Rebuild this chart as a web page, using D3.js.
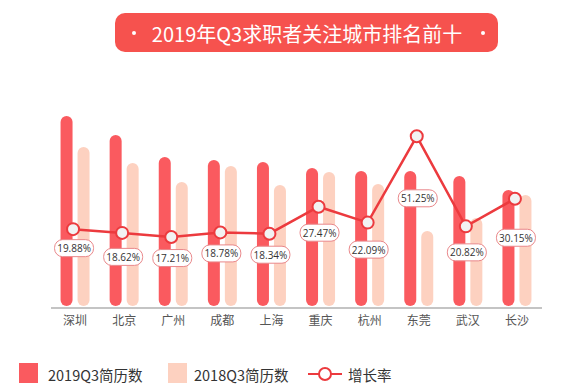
<!DOCTYPE html>
<html>
<head>
<meta charset="utf-8">
<script src="https://cdn.jsdelivr.net/npm/d3@7"></script>
<style>
  body { margin: 0; background: #fff; }
  svg { display: block; font-family: "Noto Sans CJK SC", "Noto Sans", sans-serif; }
</style>
</head>
<body>
<div id="chart"></div>
<script>
// Data (bar values are relative heights, the chart has no value axis)
const cities = ["深圳", "北京", "广州", "成都", "上海", "重庆", "杭州", "东莞", "武汉", "长沙"];
const resumes2019 = [190, 171, 149, 146, 144, 138, 135, 135, 130, 116];
const resumes2018 = [159, 143, 124, 140, 121, 134, 122, 75, 88, 111];
const growthRate = [19.88, 18.62, 17.21, 18.78, 18.34, 27.47, 22.09, 51.25, 20.82, 30.15];
const seriesNames = ["2019Q3简历数", "2018Q3简历数", "增长率"];
const title = "2019年Q3求职者关注城市排名前十";

const width = 566, height = 389;
const baseY = 306;
const colors = { bar2019: "#fa5a5f", bar2018: "#fdd1c0", line: "#ec3a3e", title: "#f6524e" };

// label offset below each point (the original moves a couple of them out of the way)
const labelDy = [19, 24, 21, 21, 21, 26, 27, 62, 26, 39];

const svg = d3.select("#chart")
  .append("svg")
  .attr("width", width)
  .attr("height", height);

// Title pill
const titleG = svg.append("g");
titleG.append("rect")
  .attr("x", 115).attr("y", 13)
  .attr("width", 383).attr("height", 39)
  .attr("rx", 10)
  .attr("fill", colors.title);
titleG.append("text")
  .attr("x", 307).attr("y", 33)
  .attr("text-anchor", "middle")
  .attr("dominant-baseline", "central")
  .attr("fill", "#fff")
  .style("font-size", "20px")
  .text(title);
[134, 483].forEach(x => {
  titleG.append("circle").attr("cx", x).attr("cy", 33).attr("r", 2).attr("fill", "#fff");
});

// Scales
const x = d3.scaleBand()
  .domain(cities)
  .range([50.5, 541.5]);

const y = d3.scaleLinear()
  .domain([0, 200])
  .range([baseY, baseY - 200]);

const yRate = d3.scaleLinear()
  .domain([0, 50])
  .range([288, 140]);

const barW = 12;

// Bars
svg.append("g").selectAll("rect")
  .data(cities)
  .join("rect")
  .attr("x", d => x(d) + x.bandwidth() / 2 - 2.5 - barW)
  .attr("y", (d, i) => y(resumes2019[i]))
  .attr("width", barW)
  .attr("height", (d, i) => baseY - y(resumes2019[i]))
  .attr("rx", 6)
  .attr("fill", colors.bar2019);

svg.append("g").selectAll("rect")
  .data(cities)
  .join("rect")
  .attr("x", d => x(d) + x.bandwidth() / 2 + 2.5)
  .attr("y", (d, i) => y(resumes2018[i]))
  .attr("width", barW)
  .attr("height", (d, i) => baseY - y(resumes2018[i]))
  .attr("rx", 6)
  .attr("fill", colors.bar2018);

// X axis
const xAxis = svg.append("g")
  .attr("transform", `translate(0,${baseY + 1.5})`)
  .call(d3.axisBottom(x).tickSize(0).tickPadding(9));
xAxis.select(".domain").attr("stroke", "#b0b0b0").attr("stroke-width", 1.5);
xAxis.selectAll("text")
  .attr("fill", "#555")
  .style("font-size", "12px")
  .style("font-family", "\"Noto Sans CJK SC\", sans-serif");

// Growth rate line
const px = (d, i) => x(cities[i]) + x.bandwidth() / 2 - 2;
const line = d3.line()
  .x((d, i) => px(d, i))
  .y(d => yRate(d));

svg.append("path")
  .datum(growthRate)
  .attr("d", line)
  .attr("fill", "none")
  .attr("stroke", colors.line)
  .attr("stroke-width", 2.5);

svg.append("g").selectAll("circle")
  .data(growthRate)
  .join("circle")
  .attr("cx", px)
  .attr("cy", d => yRate(d))
  .attr("r", 6)
  .attr("fill", "#f2f2f2")
  .attr("stroke", colors.line)
  .attr("stroke-width", 2);

// Value labels
const labels = svg.append("g").selectAll("g")
  .data(growthRate)
  .join("g")
  .attr("transform", (d, i) => `translate(${x(cities[i]) + x.bandwidth() / 2 - 1},${yRate(d) + labelDy[i]})`);

labels.append("rect")
  .attr("x", -19.5).attr("y", -8.5)
  .attr("width", 39).attr("height", 17)
  .attr("rx", 8)
  .attr("fill", "#fff")
  .attr("stroke", "#e9878a")
  .attr("stroke-width", 1);

labels.append("text")
  .attr("text-anchor", "middle")
  .attr("dominant-baseline", "central")
  .attr("fill", "#333")
  .style("font-family", "\"Open Sans\", sans-serif")
  .style("font-size", "10px")
  .text(d => d.toFixed(2) + "%");

// Legend
const legend = svg.append("g").attr("transform", "translate(0,374)");
legend.append("rect").attr("x", 19).attr("y", -11).attr("width", 19).attr("height", 20).attr("fill", colors.bar2019);
legend.append("text").attr("x", 48).attr("y", 0).attr("dominant-baseline", "central")
  .attr("fill", "#333").style("font-size", "14.5px").text(seriesNames[0]);
legend.append("rect").attr("x", 168).attr("y", -11).attr("width", 19).attr("height", 20).attr("fill", colors.bar2018);
legend.append("text").attr("x", 194).attr("y", 0).attr("dominant-baseline", "central")
  .attr("fill", "#333").style("font-size", "14.5px").text(seriesNames[1]);
legend.append("line").attr("x1", 308).attr("x2", 342).attr("y1", 0).attr("y2", 0)
  .attr("stroke", colors.line).attr("stroke-width", 2);
legend.append("circle").attr("cx", 325).attr("cy", 0).attr("r", 6)
  .attr("fill", "#fff").attr("stroke", colors.line).attr("stroke-width", 2);
legend.append("text").attr("x", 348).attr("y", 0).attr("dominant-baseline", "central")
  .attr("fill", "#333").style("font-size", "14.5px").text(seriesNames[2]);
</script>
</body>
</html>
